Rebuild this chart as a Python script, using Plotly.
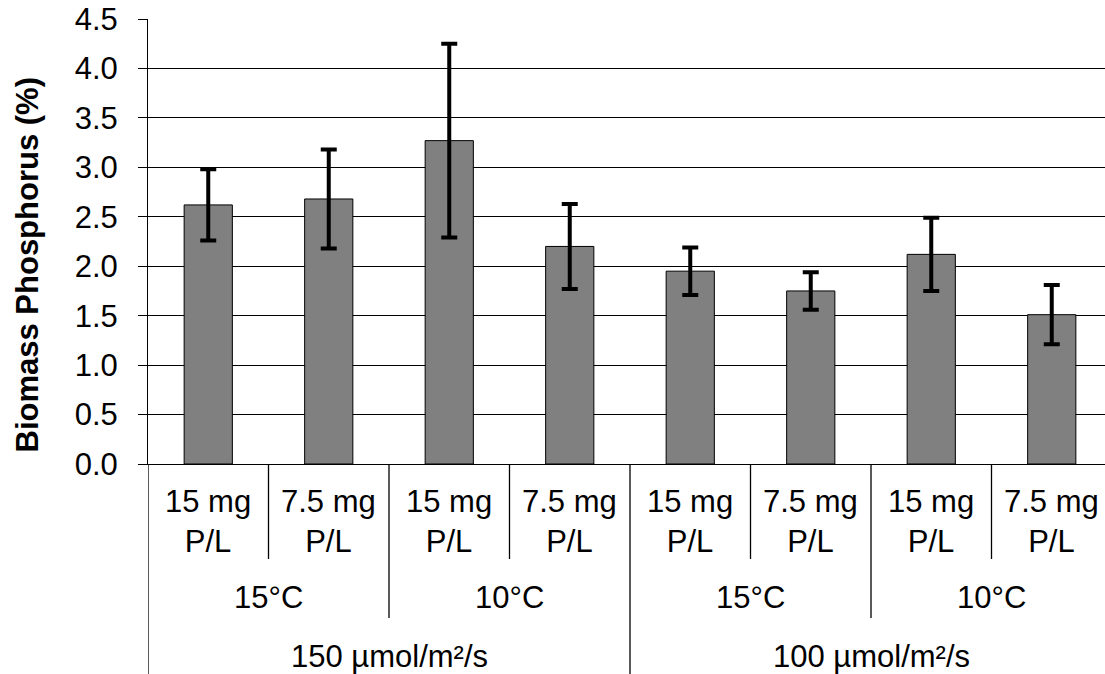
import plotly.graph_objects as go

# Data
p_labels = ["15 mg<br>P/L", "7.5 mg<br>P/L", "15 mg<br>P/L", "7.5 mg<br>P/L",
            "15 mg<br>P/L", "7.5 mg<br>P/L", "15 mg<br>P/L", "7.5 mg<br>P/L"]
temp_labels = ["15°C", "10°C", "15°C", "10°C"]
light_labels = ["150 µmol/m²/s", "100 µmol/m²/s"]
values = [2.62, 2.68, 3.27, 2.20, 1.95, 1.75, 2.12, 1.51]
errors = [0.36, 0.50, 0.98, 0.43, 0.24, 0.19, 0.37, 0.30]
y_ticks = [0.0, 0.5, 1.0, 1.5, 2.0, 2.5, 3.0, 3.5, 4.0, 4.5]

W, H = 1105, 674
ML, MT, MB = 148, 19, 210
plot_h = H - MT - MB
cat_px = 120.5
xr_right = -0.5 + (W - ML) / cat_px

FONT = "Liberation Sans, Arial, sans-serif"
FS = 31

def py(pix):
    # convert pixel y (from top) to paper y
    return (H - MB - pix) / plot_h

x = list(range(len(values)))

fig = go.Figure()
fig.add_trace(go.Bar(
    x=x, y=values, width=0.4,
    marker=dict(color="#808080", line=dict(color="black", width=1)),
    error_y=dict(type="data", array=errors, visible=True, color="black", thickness=4, width=8),
    showlegend=False,
))

annotations = []
# row 1 labels
for i, lab in enumerate(p_labels):
    annotations.append(dict(x=i, y=py(521), xref="x", yref="paper", text=lab, showarrow=False,
                            font=dict(size=FS, color="black", family=FONT), xanchor="center", yanchor="middle"))
# row 2 labels
n2 = len(p_labels) // len(temp_labels)
for j, lab in enumerate(temp_labels):
    annotations.append(dict(x=j * n2 + (n2 - 1) / 2, y=py(597), xref="x", yref="paper", text=lab, showarrow=False,
                            font=dict(size=FS, color="black", family=FONT), xanchor="center", yanchor="middle"))
# row 3 labels
n3 = len(p_labels) // len(light_labels)
for k, lab in enumerate(light_labels):
    annotations.append(dict(x=k * n3 + (n3 - 1) / 2, y=py(656), xref="x", yref="paper", text=lab, showarrow=False,
                            font=dict(size=FS, color="black", family=FONT), xanchor="center", yanchor="middle"))
# y-axis title
annotations.append(dict(x=(27 - ML) / (W - ML), y=py(264.5), xref="paper", yref="paper",
                        text="<b>Biomass Phosphorus (%)</b>", textangle=-90, showarrow=False,
                        font=dict(size=31, color="black", family=FONT), xanchor="center", yanchor="middle"))

shapes = []
n = len(p_labels)
for b in range(n + 1):
    xb = b - 0.5
    if b % n3 == 0:
        y1 = py(H)
    elif b % n2 == 0:
        y1 = py(618)
    else:
        y1 = py(559)
    shapes.append(dict(type="line", xref="x", yref="paper", x0=xb, x1=xb, y0=0, y1=y1,
                       line=dict(color="black", width=1.3)))

fig.update_layout(
    width=W, height=H,
    margin=dict(l=ML, r=0, t=MT, b=MB),
    paper_bgcolor="white", plot_bgcolor="white",
    font=dict(family=FONT, size=FS, color="black"),
    xaxis=dict(range=[-0.5, xr_right], showticklabels=False, showgrid=False, zeroline=False,
               showline=True, linecolor="black", linewidth=1, ticks=""),
    yaxis=dict(range=[0, 4.5], tickvals=y_ticks, ticktext=[f"{v:.1f}" for v in y_ticks],
               showgrid=True, gridcolor="black", gridwidth=1, zeroline=False,
               showline=True, linecolor="black", linewidth=1,
               ticks="outside", ticklen=9, tickcolor="black", tickwidth=1,
               ticklabelstandoff=14, tickfont=dict(size=FS, color="black", family=FONT)),
    annotations=annotations, shapes=shapes,
    bargap=0.6,
)

fig.write_html("out.html")
